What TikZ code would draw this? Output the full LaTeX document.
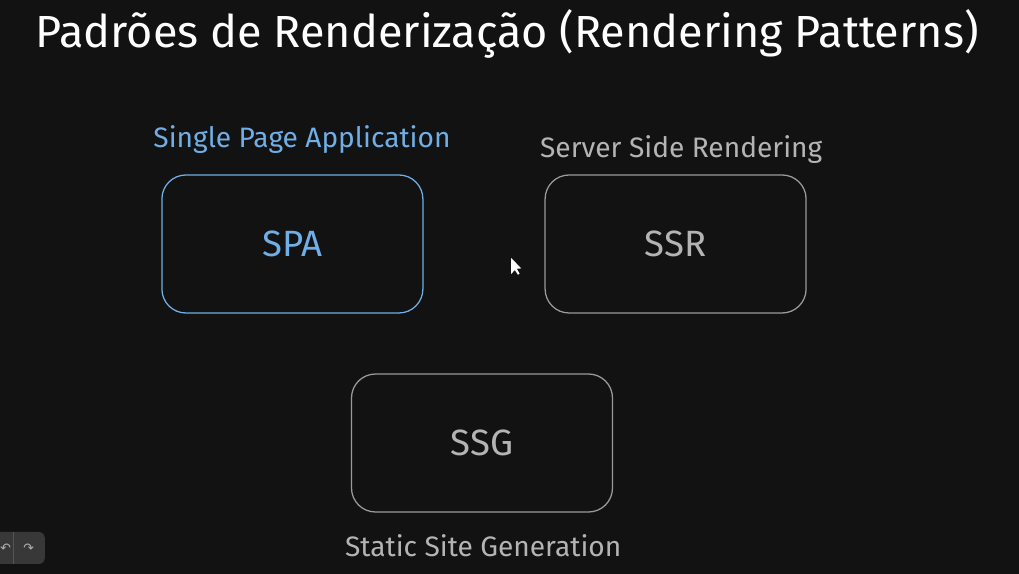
\documentclass[tikz,border=0pt]{standalone}
\usepackage{fontspec}
\setmainfont{Fira Sans}
\newfontfamily\symfont{DejaVu Sans}
\usepackage{tikz}
\usetikzlibrary{calc}
\definecolor{fundo}{HTML}{121212}
\definecolor{azul}{HTML}{6FAEE6}
\definecolor{cinza}{HTML}{B4B4B4}
\definecolor{borda}{HTML}{9A9A9A}
\tikzstyle{padrao} = [rectangle, rounded corners=0.6cm, draw=borda, line width=0.9pt, minimum height=3.45cm, minimum width=6.525cm, text=cinza, font=\fontsize{26}{30}\selectfont]
\tikzstyle{ativo} = [padrao, draw=azul, text=azul]
\tikzstyle{legenda} = [text=cinza, font=\fontsize{20}{24}\selectfont]

\begin{document}
\begin{tikzpicture}

        \fill[fundo] (0,0) rectangle (25.475,14.35);
        \useasboundingbox (0,0) rectangle (25.475,14.35);

        \node (titulo) [text=white, font=\fontsize{32}{38}\selectfont] at (12.68,13.5) {Padrões de Renderização (Rendering Patterns)};

        \node (spa) [ativo] at (7.31,8.25) {SPA};
        \node (ssr) [padrao] at (16.89,8.25) {SSR};
        \node (ssg) [padrao] at (12.05,3.275) {SSG};

        \node (spalabel) [legenda, text=azul] at (7.55,10.87) {Single Page Application};
        \node (ssrlabel) [legenda] at (17.03,10.62) {Server Side Rendering};
        \node (ssglabel) [legenda] at (12.08,0.7) {Static Site Generation};

        % cursor
        \fill[white] (12.78,7.9) -- (12.78,7.5) -- (12.87,7.6) -- (12.95,7.48) -- (12.99,7.51) -- (12.92,7.63) -- (13.03,7.64) -- cycle;

        % undo / redo
        \fill[fill=white!16!fundo, rounded corners=0.15cm] (-0.2,0.25) rectangle (1.12,1.05);
        \draw[white!28!fundo] (0.33,0.25) -- (0.33,1.05);
        \node (undo) [text=cinza, font=\symfont\small] at (0.14,0.65) {↶};
        \node (redo) [text=cinza, font=\symfont\small] at (0.72,0.65) {↷};

\end{tikzpicture}
\end{document}
